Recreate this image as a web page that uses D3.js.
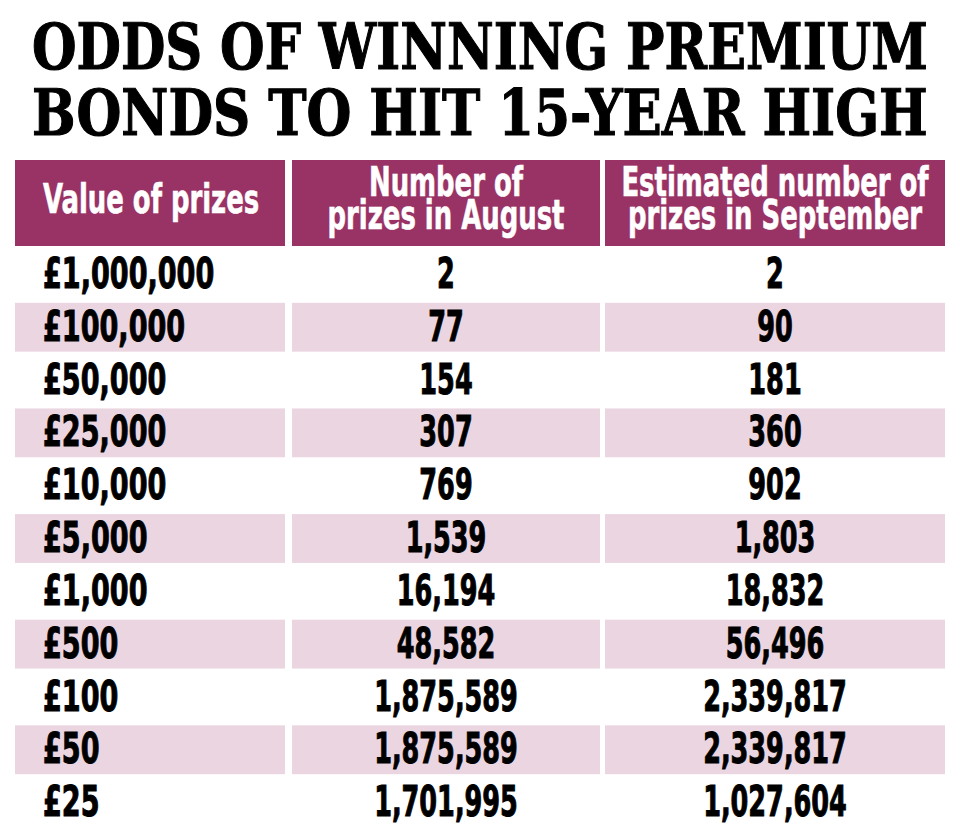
<!DOCTYPE html>
<html>
<head>
<meta charset="utf-8">
<script src="https://cdn.jsdelivr.net/npm/d3@7"></script>
<style>
  html, body { margin: 0; padding: 0; background: #ffffff; }
  svg { display: block; }
</style>
</head>
<body>
<svg id="chart" width="960" height="840"></svg>
<script>
// ---- Data ----
const titleLines = ["ODDS OF WINNING PREMIUM", "BONDS TO HIT 15-YEAR HIGH"];
const columnHeaders = [
  ["Value of prizes"],
  ["Number of", "prizes in August"],
  ["Estimated number of", "prizes in September"]
];
const prizeValues = ["£1,000,000", "£100,000", "£50,000", "£25,000", "£10,000", "£5,000", "£1,000", "£500", "£100", "£50", "£25"];
const augustCounts = [2, 77, 154, 307, 769, 1539, 16194, 48582, 1875589, 1875589, 1701995];
const septemberCounts = [2, 90, 181, 360, 902, 1803, 18832, 56496, 2339817, 2339817, 1027604];

// ---- Layout / style ----
const headerColor = "#993366";
const stripeColor = "#ead5e0";
const condFont = "'DejaVu Sans Condensed', 'DejaVu Sans', sans-serif";
const serifFont = "'DejaVu Serif', serif";
const sxBody = 0.66;   // horizontal compression for condensed look
const sxHead = 0.72;

const svg = d3.select("#chart");
const fmt = d3.format(",");

// column edges
const colEdges = [[15, 285], [292, 600], [605, 945]];
const colX0 = d3.scaleOrdinal().domain([0, 1, 2]).range(colEdges.map(d => d[0]));
const colX1 = d3.scaleOrdinal().domain([0, 1, 2]).range(colEdges.map(d => d[1]));

// rows
const y = d3.scaleBand().domain(d3.range(prizeValues.length)).range([250, 827]).paddingInner(0.075).paddingOuter(0);

// ---- Title (fitted to width by horizontal scale) ----
const title = svg.append("g");
title.selectAll("text").data(titleLines).join("text")
  .attr("x", 0)
  .attr("y", 0)
  .attr("font-family", serifFont)
  .attr("font-weight", 900)
  .attr("font-size", 64)
  .attr("fill", "#000")
  .attr("stroke", "#000")
  .attr("stroke-width", 1.2)
  .text(d => d)
  .each(function(d, i) {
    const w = this.getComputedTextLength();
    const s = 896 / w;
    d3.select(this).attr("transform", `translate(32,${69 + i * 66}) scale(${s},1)`);
  });

// ---- Header ----
const header = svg.append("g");
header.selectAll("rect").data(columnHeaders).join("rect")
  .attr("x", (d, i) => colX0(i))
  .attr("y", 160)
  .attr("width", (d, i) => colX1(i) - colX0(i))
  .attr("height", 86)
  .attr("fill", headerColor);

columnHeaders.forEach((lines, i) => {
  const cx = i === 0 ? colX0(i) + 28 : (colX0(i) + colX1(i)) / 2;
  const anchor = i === 0 ? "start" : "middle";
  lines.forEach((t, j) => {
    const by = lines.length === 1 ? 213 : 196 + j * 33;
    header.append("text")
      .attr("transform", `translate(${cx},${by}) scale(${sxHead},1)`)
      .attr("text-anchor", anchor)
      .attr("font-family", condFont)
      .attr("font-weight", "bold")
      .attr("font-size", 40)
      .attr("fill", "#fff")
      .attr("stroke", "#fff")
      .attr("stroke-width", 0.6)
      .text(t);
  });
});

// ---- Body rows ----
const rows = svg.append("g").selectAll("g").data(prizeValues.map((p, i) => ({
  i, prize: p, aug: augustCounts[i], sep: septemberCounts[i]
}))).join("g");

rows.each(function(d) {
  const g = d3.select(this);
  if (d.i % 2 === 1) {
    [0, 1, 2].forEach(c => {
      g.append("rect")
        .attr("x", colX0(c))
        .attr("y", y(d.i))
        .attr("width", colX1(c) - colX0(c))
        .attr("height", y.bandwidth())
        .attr("fill", stripeColor);
    });
  }
  const by = y(d.i) + 38;
  const cells = [
    { t: d.prize, x: colX0(0) + 28, anchor: "start", s: 0.7 },
    { t: fmt(d.aug), x: (colX0(1) + colX1(1)) / 2, anchor: "middle", s: sxBody },
    { t: fmt(d.sep), x: (colX0(2) + colX1(2)) / 2, anchor: "middle", s: sxBody }
  ];
  cells.forEach(cell => {
    g.append("text")
      .attr("transform", `translate(${cell.x},${by}) scale(${cell.s},1)`)
      .attr("text-anchor", cell.anchor)
      .attr("font-family", condFont)
      .attr("font-weight", "bold")
      .attr("font-size", 43)
      .attr("fill", "#000")
      .attr("stroke", "#000")
      .attr("stroke-width", 1)
      .text(cell.t);
  });
});
</script>
</body>
</html>
